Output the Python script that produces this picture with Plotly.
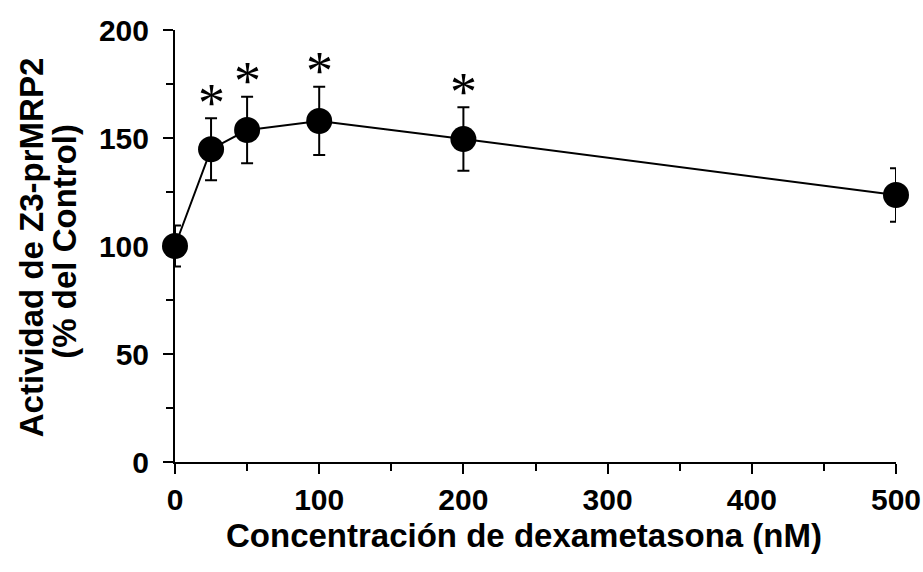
import plotly.graph_objects as go

# Dexamethasone dose-response of Z3-prMRP2 reporter activity
conc_nm = [0, 25, 50, 100, 200, 500]
activity_pct = [100, 144.8, 153.7, 157.9, 149.5, 123.6]
sem_pct = [9.5, 14.4, 15.4, 15.8, 14.7, 12.4]
significant = [False, True, True, True, True, False]

y_ticks = [0, 50, 100, 150, 200]
x_ticks = [0, 100, 200, 300, 400, 500]

sans = "Liberation Sans, Arial, sans-serif"
serif = "Liberation Serif, Times New Roman, serif"

fig = go.Figure()
fig.add_trace(go.Scatter(
    x=conc_nm,
    y=activity_pct,
    mode="lines+markers",
    line=dict(color="black", width=2),
    marker=dict(color="black", size=26),
    error_y=dict(type="data", array=sem_pct, visible=True,
                 color="black", thickness=2, width=6),
    cliponaxis=False,
    showlegend=False,
))

# significance marks above the error bars
for xv, yv, ev, sig in zip(conc_nm, activity_pct, sem_pct, significant):
    if sig:
        fig.add_annotation(
            x=xv, y=yv + ev + 10, xref="x", yref="y",
            text="*", showarrow=False,
            font=dict(family=serif, size=54, color="black"),
            xanchor="center", yanchor="middle", yshift=-6,
        )

# two-line y-axis title
fig.add_annotation(
    xref="paper", yref="paper", x=0, y=0.497, xshift=-144,
    text="<b>Actividad de Z3-prMRP2</b>", textangle=-90, showarrow=False,
    font=dict(family=sans, size=33, color="black"),
    xanchor="center", yanchor="middle",
)
fig.add_annotation(
    xref="paper", yref="paper", x=0, y=0.51, xshift=-110,
    text="<b>(% del Control)</b>", textangle=-90, showarrow=False,
    font=dict(family=sans, size=33, color="black"),
    xanchor="center", yanchor="middle",
)

# x-axis title
fig.add_annotation(
    xref="paper", yref="paper", x=0.5, y=0, xshift=-12, yshift=-73,
    text="<b>Concentración de dexametasona (nM)</b>", showarrow=False,
    font=dict(family=sans, size=33, color="black"),
    xanchor="center", yanchor="middle",
)

axis_common = dict(
    showline=True, linecolor="black", linewidth=2,
    ticks="outside", tickcolor="black", tickwidth=2, ticklen=10,
    showgrid=False, zeroline=False,
    tickfont=dict(family=sans, size=30, color="black"),
    automargin=False,
)

fig.update_xaxes(
    range=[0, 500], tickvals=x_ticks,
    ticktext=[f"<b>{v}</b>" for v in x_ticks],
    minor=dict(dtick=50, ticks="outside", ticklen=7, tickcolor="black", tickwidth=2),
    **axis_common,
)
fig.update_yaxes(
    range=[0, 200], tickvals=y_ticks,
    ticktext=[f"<b>{v}</b>" for v in y_ticks],
    minor=dict(dtick=25, ticks="outside", ticklen=7, tickcolor="black", tickwidth=2),
    ticklabelstandoff=8,
    **axis_common,
)

fig.update_layout(
    width=923, height=572,
    margin=dict(l=175, r=27, t=30, b=110),
    plot_bgcolor="white", paper_bgcolor="white",
)

fig.write_html("out.html")
